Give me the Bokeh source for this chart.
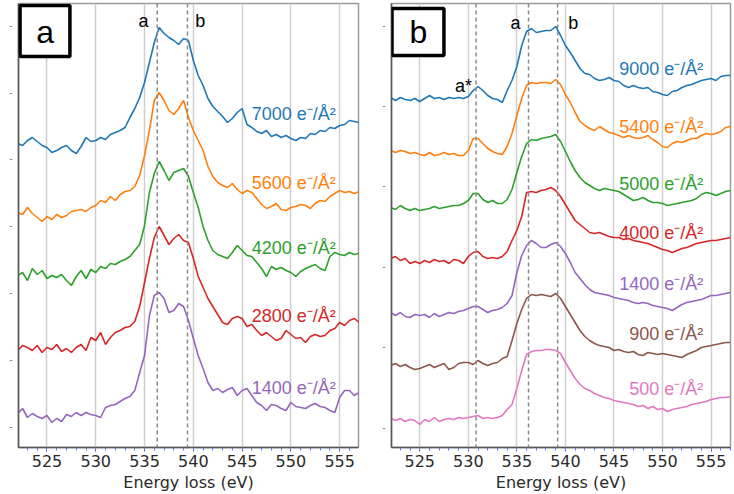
import numpy as np
from bokeh.plotting import figure
from bokeh.layouts import row
from bokeh.models import (Span, Label, BoxAnnotation, FixedTicker,
                          SingleIntervalTicker, CustomJSTickFormatter)
from bokeh.embed import file_html
from bokeh.resources import INLINE

# ---------------- data ----------------
E_START = 522.0   # eV
E_STEP = 0.5      # eV

# panel a : O K-edge spectra (stacked, arbitrary units)
doses_a = ["7000", "5600", "4200", "2800", "1400"]
a_7000 = [283, 281, 286, 289, 285, 281, 279, 274, 276, 279, 281, 276, 273, 280, 289, 285, 286, 289, 287, 292,
          294, 296, 299, 309, 318, 329, 344, 364, 384, 399, 393, 389, 386, 382, 388, 386, 366, 351, 341, 328,
          320, 315, 310, 304, 308, 314, 318, 302, 299, 295, 293, 296, 290, 292, 289, 291, 288, 286, 289, 288,
          293, 292, 296, 295, 299, 298, 301, 302, 306, 305, 304]
a_5600 = [214, 212, 219, 213, 209, 205, 210, 207, 212, 209, 211, 215, 216, 217, 215, 219, 221, 226, 224, 230,
          226, 232, 235, 236, 240, 251, 271, 296, 326, 334, 326, 316, 312, 318, 326, 309, 296, 286, 276, 260,
          250, 244, 241, 239, 243, 237, 233, 236, 234, 228, 222, 218, 220, 223, 217, 216, 219, 220, 222, 221,
          218, 223, 226, 225, 230, 233, 236, 234, 235, 233, 235]
a_4200 = [151, 154, 146, 158, 152, 156, 148, 151, 149, 152, 146, 141, 150, 156, 148, 157, 154, 160, 158, 163,
          162, 165, 167, 170, 176, 182, 201, 234, 253, 265, 256, 246, 254, 256, 258, 250, 234, 219, 200, 186,
          176, 172, 170, 168, 174, 181, 176, 171, 170, 164, 158, 150, 160, 157, 159, 156, 154, 150, 155, 158,
          160, 162, 158, 156, 170, 174, 172, 171, 174, 172, 173]
a_2800 = [76, 81, 79, 76, 81, 74, 79, 77, 82, 75, 78, 74, 79, 82, 76, 89, 86, 94, 82, 89,
          94, 96, 99, 100, 105, 120, 144, 168, 189, 200, 191, 182, 188, 192, 186, 184, 168, 150, 139, 128,
          120, 112, 104, 102, 108, 110, 108, 100, 102, 96, 91, 94, 90, 86, 88, 96, 92, 88, 89, 84,
          90, 92, 90, 91, 96, 98, 104, 101, 106, 108, 104]
a_1400 = [13, 18, 9, 13, 10, 8, 11, 4, 8, 5, 12, 10, 14, 11, 14, 12, 11, 9, 19, 21,
          22, 25, 28, 30, 36, 54, 71, 111, 131, 134, 128, 114, 116, 123, 120, 106, 88, 71, 58, 44,
          36, 38, 34, 37, 39, 31, 36, 38, 31, 24, 21, 16, 22, 21, 18, 16, 24, 20, 19, 18,
          21, 23, 20, 19, 16, 14, 29, 36, 36, 31, 34]

# panel b
doses_b = ["9000", "5400", "5000", "4000", "1400", "900", "500"]
b_9000 = [330, 327, 330, 328, 327, 329, 326, 329, 332, 329, 330, 328, 330, 329, 330, 329, 331, 337, 341, 337,
          332, 329, 328, 325, 337, 347, 361, 382, 396, 399, 395, 396, 397, 397, 401, 392, 382, 375, 367, 359,
          354, 353, 349, 347, 348, 350, 347, 346, 342, 340, 342, 340, 339, 340, 336, 335, 333, 332, 336, 337,
          340, 342, 343, 345, 347, 348, 349, 347, 351, 352, 352]
b_5400 = [277, 275, 277, 276, 274, 275, 273, 272, 275, 272, 273, 275, 273, 274, 272, 272, 277, 289, 289, 284,
          279, 276, 274, 273, 281, 294, 312, 329, 342, 345, 344, 345, 345, 344, 348, 343, 333, 325, 315, 306,
          302, 299, 297, 301, 298, 295, 294, 292, 290, 292, 290, 289, 290, 292, 288, 285, 281, 280, 284, 286,
          285, 287, 289, 289, 292, 294, 293, 294, 296, 300, 301]
b_5000 = [220, 218, 222, 219, 217, 219, 217, 218, 219, 221, 219, 220, 221, 222, 222, 224, 227, 234, 234, 228,
          225, 227, 224, 224, 228, 238, 255, 271, 284, 288, 287, 289, 290, 291, 293, 286, 276, 266, 257, 250,
          245, 242, 239, 237, 239, 238, 237, 236, 233, 230, 227, 228, 230, 227, 225, 225, 224, 222, 223, 224,
          225, 226, 227, 229, 233, 235, 234, 232, 234, 236, 237]
b_4000 = [169, 171, 167, 169, 164, 166, 164, 167, 165, 168, 166, 167, 164, 168, 167, 164, 171, 175, 176, 171,
          169, 170, 169, 171, 176, 187, 197, 211, 235, 236, 235, 237, 238, 240, 237, 231, 223, 215, 207, 203,
          199, 195, 194, 195, 193, 191, 190, 190, 188, 189, 187, 186, 185, 184, 182, 180, 178, 177, 175, 177,
          179, 180, 182, 184, 185, 186, 187, 187, 188, 189, 190]
b_1400 = [115, 112, 115, 111, 110, 113, 112, 113, 110, 114, 111, 113, 115, 114, 116, 117, 119, 121, 121, 118,
          115, 117, 118, 120, 124, 132, 155, 172, 182, 187, 184, 180, 180, 183, 185, 181, 174, 165, 155, 149,
          143, 138, 135, 134, 133, 132, 130, 129, 128, 127, 125, 124, 125, 124, 122, 121, 120, 119, 117, 120,
          123, 125, 126, 127, 128, 130, 132, 132, 133, 134, 135]
b_900 = [62, 64, 61, 63, 60, 58, 59, 61, 63, 60, 62, 64, 58, 60, 64, 65, 65, 63, 67, 64,
         62, 64, 65, 69, 71, 87, 104, 118, 129, 133, 132, 133, 132, 131, 134, 129, 121, 113, 105, 97,
         91, 87, 84, 82, 81, 80, 77, 78, 76, 75, 76, 73, 72, 75, 74, 73, 74, 73, 72, 71,
         70, 73, 75, 77, 80, 81, 82, 83, 84, 85, 85]
b_500 = [9, 7, 9, 6, 8, 7, 3, 8, 6, 10, 6, 8, 9, 8, 10, 9, 10, 11, 12, 9,
         10, 9, 10, 12, 18, 23, 39, 57, 73, 76, 77, 77, 78, 78, 77, 74, 65, 57, 49, 43,
         39, 37, 34, 32, 30, 29, 27, 26, 25, 24, 23, 21, 22, 19, 21, 18, 19, 16, 18, 19,
         20, 21, 23, 24, 25, 26, 28, 29, 30, 30, 31]

peaks_a = [536.3, 539.4]
peaks_b = [530.8, 536.2, 539.2]
x_ticks_major = 5

COLORS = ["#1f77b4", "#ff7f0e", "#2ca02c", "#d62728", "#9467bd", "#8c564b", "#e377c2"]
SANS = "Liberation Sans"
AXFONT = "DejaVu Sans"


def make_panel(series, doses, label_ys, label_x, tick_step, n_ticks, x_rng, y_rng,
               peaks, letter, box, letter_xy, mb_left, mb_right, marks):
    p = figure(width=367, height=494, x_range=x_rng, y_range=y_rng,
               output_backend="svg", toolbar_location=None,
               min_border_left=mb_left, min_border_right=mb_right,
               min_border_top=3, min_border_bottom=47)
    p.background_fill_color = "white"
    p.border_fill_color = "white"
    p.outline_line_color = "#9a9a9a"
    p.outline_line_width = 1.5

    # x axis
    xa = p.xaxis[0]
    xa.ticker = SingleIntervalTicker(interval=x_ticks_major, num_minor_ticks=5)
    xa.axis_label = "Energy loss (eV)"
    xa.axis_label_text_font = AXFONT
    xa.axis_label_text_font_size = "16px"
    xa.axis_label_text_font_style = "normal"
    xa.axis_label_text_color = "#2a2a2a"
    xa.axis_label_standoff = 3
    xa.major_label_text_font = AXFONT
    xa.major_label_text_font_size = "16px"
    xa.major_label_text_color = "#2a2a2a"
    xa.major_label_standoff = 3
    xa.axis_line_color = "#555555"
    xa.axis_line_width = 1.5
    xa.major_tick_out = 4
    xa.major_tick_in = 0
    xa.major_tick_line_color = "#555555"
    xa.minor_tick_out = 3
    xa.minor_tick_in = 0
    xa.minor_tick_line_color = "#5a78f0"

    # y axis (unlabelled)
    ya = p.yaxis[0]
    ya.ticker = FixedTicker(ticks=[k * tick_step for k in range(n_ticks)])
    ya.formatter = CustomJSTickFormatter(code="return '-'")
    ya.major_tick_out = 0
    ya.major_tick_in = 0
    ya.minor_tick_out = 0
    ya.minor_tick_in = 0
    ya.major_label_standoff = 6
    ya.major_label_text_font_size = "9px"
    ya.major_label_text_color = "#555555"
    ya.axis_line_color = "#555555"
    ya.axis_line_width = 1.5

    p.xgrid.grid_line_color = "#cfcfcf"
    p.xgrid.grid_line_width = 1.5
    p.ygrid.grid_line_color = None

    for loc in peaks:
        p.add_layout(Span(location=loc, dimension="height", line_color="#8a8a8a",
                          line_dash="4 3", line_width=1.5))

    for i, ys in enumerate(series):
        x = E_START + E_STEP * np.arange(len(ys))
        p.line(x, ys, line_color=COLORS[i], line_width=1.6)

    for i, (d, ly) in enumerate(zip(doses, label_ys)):
        p.add_layout(Label(x=label_x, y=ly, text=f"{d} e\u207b/\u00c5\u00b2",
                           text_align="right", text_baseline="middle",
                           text_color=COLORS[i], text_font=SANS, text_font_size="18px"))

    for (mx, my, mt) in marks:
        p.add_layout(Label(x=mx, y=my, text=mt, text_align="center", text_baseline="middle",
                           text_color="black", text_font=SANS, text_font_size="18px"))

    l, r, b, t = box
    p.add_layout(BoxAnnotation(left=l, right=r, bottom=b, top=t, fill_color="white",
                               fill_alpha=1.0, line_color="black", line_width=3.5, line_alpha=1.0))
    p.add_layout(Label(x=letter_xy[0], y=letter_xy[1], text=letter, text_align="center",
                       text_baseline="middle", text_color="black", text_font=SANS,
                       text_font_size="32px"))
    return p


pa = make_panel([a_7000, a_5600, a_4200, a_2800, a_1400], doses_a,
                [313, 244, 179, 111, 39], 554.6, 66.8, 7,
                (522.08, 556.93), (-21, 423), peaks_a, "a",
                (522.24, 527.35, 370, 421), (524.8, 395), 18, 9,
                [(534.9, 406, "a"), (540.7, 406, "b")])

pb = make_panel([b_9000, b_5400, b_5000, b_4000, b_1400, b_900, b_500], doses_b,
                [359, 301, 244, 195, 144, 94, 39], 554.2, 80.4, 6,
                (522.09, 557.0), (-20, 424), peaks_b, "b",
                (522.14, 527.49, 372, 419), (524.85, 396), 24, 4,
                [(534.85, 405, "a"), (540.8, 405, "b"), (529.5, 342, "a*")])

layout = row(pa, pb)
open("out.html", "w").write(file_html(layout, INLINE))
